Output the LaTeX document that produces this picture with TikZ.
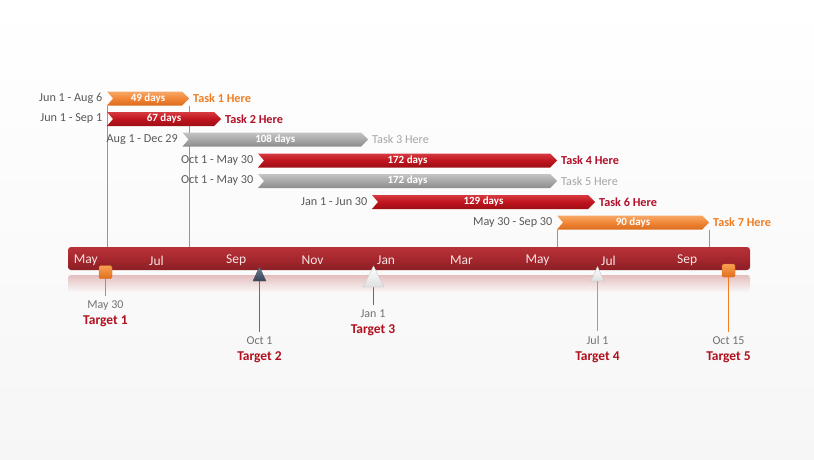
\documentclass[tikz,border=0pt]{standalone}
\usepackage{fontspec}
\setmainfont{Carlito}
\usepackage{tikz}
\usetikzlibrary{positioning}

\definecolor{datec}{HTML}{595959}
\definecolor{orangec}{HTML}{F07D22}
\definecolor{redc}{HTML}{B0102A}
\definecolor{greyc}{HTML}{A6A6A6}
\definecolor{targc}{HTML}{B0101E}
\definecolor{slatec}{HTML}{44546A}
\definecolor{bluelinec}{HTML}{506E8C}

% one task bar: name, y, start x, end x, style, days
\newcommand{\ganttbar}[6]{%
  \shade[#5] (#3,#2-7) -- ({#4-7},#2-7) -- (#4,#2) -- ({#4-7},#2+7)
    -- (#3,#2+7) -- ({#3+6},#2) -- cycle;
  \coordinate (#1w) at (#3,#2);
  \coordinate (#1x) at (#4,#2);
  \node[daysn] (#1) at ({(#3+#4)/2},#2) {#6};
}

\begin{document}
\begin{tikzpicture}[x=1pt,y=-1pt,
  datel/.style={font=\fontsize{12.2}{14}\selectfont, text=datec, inner sep=0pt},
  taskl/.style={font=\fontsize{12.2}{14}\selectfont\bfseries, inner sep=0pt},
  daysn/.style={font=\fontsize{11}{13}\selectfont\bfseries, text=white, inner sep=0pt},
  redbar/.style={top color={rgb,255:red,214;green,58;blue,64}, bottom color={rgb,255:red,158;green,14;blue,22}, middle color={rgb,255:red,192;green,20;blue,30}},
  orangebar/.style={top color={rgb,255:red,247;green,168;blue,104}, bottom color={rgb,255:red,220;green,108;blue,30}, middle color={rgb,255:red,240;green,134;blue,54}},
  greybar/.style={top color={rgb,255:red,196;green,196;blue,196}, bottom color={rgb,255:red,140;green,140;blue,140}, middle color={rgb,255:red,168;green,168;blue,168}},
  timebar/.style={rounded corners=3pt, minimum width=682pt, minimum height=23pt, inner sep=0pt,
    top color={rgb,255:red,184;green,50;blue,56}, bottom color={rgb,255:red,138;green,31;blue,37}, middle color={rgb,255:red,165;green,40;blue,46}},
  monthn/.style={font=\fontsize{13.5}{15}\selectfont, text={rgb,255:red,248;green,228;blue,228}, anchor=west, inner sep=0pt},
  targetd/.style={font=\fontsize{12}{14}\selectfont, text=datec!85, inner sep=0pt, anchor=base},
  targetl/.style={font=\fontsize{13.5}{15}\selectfont\bfseries, text=targc, inner sep=0pt, anchor=base},
  orangesq/.style={minimum size=13pt, inner sep=0pt, rounded corners=1.5pt, draw={rgb,255:red,214;green,104;blue,30}, line width=0.4pt,
    top color={rgb,255:red,248;green,160;blue,84}, bottom color={rgb,255:red,226;green,110;blue,28}},
  tasklink/.style={line width=1.2pt, orangec},
  mlink/.style={line width=1pt, shorten >=4pt}]

  % background
  \shade[top color=white, bottom color=gray!7] (0,0) rectangle (814,460);
  \useasboundingbox (0,0) rectangle (814,460);

  % timeline and its reflection
  \shade[rounded corners=3pt, top color={rgb,255:red,228;green,190;blue,190}, bottom color=white!97!gray]
    (68,275) rectangle (750,293);
  \node[timebar] (tl) at (409,258.5) {};
  \foreach \m/\x [count=\i] in {May/68.6, Jul/144, Sep/220.9, Nov/296.4, Jan/372,
      Mar/445, May/520.5, Jul/596, Sep/672}
    \node[monthn] (mon\i) at (\x+5,260.5) {\m};

  % links from tasks down to the timeline
  \coordinate (t1s) at (107.5,105.5);
  \coordinate (t1e) at (189.5,105.5);
  \coordinate (t7s) at (557.5,229.5);
  \coordinate (t7e) at (709.5,229.5);
  \draw[tasklink] (t1s) -- (t1s |- tl.north);
  \draw[tasklink] (t1e) -- (t1e |- tl.north);
  \draw[tasklink] (t7s) -- (t7s |- tl.north);
  \draw[tasklink] (t7e) -- (t7e |- tl.north);

  % tasks
  \ganttbar{t1}{98.5}{107}{189}{orangebar}{49 days}
  \ganttbar{t2}{119}{107}{221}{redbar}{67 days}
  \ganttbar{t3}{139.5}{182.5}{368}{greybar}{108 days}
  \ganttbar{t4}{160.5}{258}{557}{redbar}{172 days}
  \ganttbar{t5}{181}{258}{557}{greybar}{172 days}
  \ganttbar{t6}{202}{372}{595}{redbar}{129 days}
  \ganttbar{t7}{222.5}{557}{709}{orangebar}{90 days}

  \node[datel, left=4.5pt of t1w] (t1d) {Jun 1 - Aug 6};
  \node[datel, left=4.5pt of t2w] (t2d) {Jun 1 - Sep 1};
  \node[datel, left=4.5pt of t3w] (t3d) {Aug 1 - Dec 29};
  \node[datel, left=4.5pt of t4w] (t4d) {Oct 1 - May 30};
  \node[datel, left=4.5pt of t5w] (t5d) {Oct 1 - May 30};
  \node[datel, left=4.5pt of t6w] (t6d) {Jan 1 - Jun 30};
  \node[datel, left=4.5pt of t7w] (t7d) {May 30 - Sep 30};

  \node[taskl, right=4pt of t1x, text=orangec] (t1l) {Task 1 Here};
  \node[taskl, right=4pt of t2x, text=redc] (t2l) {Task 2 Here};
  \node[datel, right=4pt of t3x, text=greyc] (t3l) {Task 3 Here};
  \node[taskl, right=4pt of t4x, text=redc] (t4l) {Task 4 Here};
  \node[datel, right=4pt of t5x, text=greyc] (t5l) {Task 5 Here};
  \node[taskl, right=4pt of t6x, text=redc] (t6l) {Task 6 Here};
  \node[taskl, right=4pt of t7x, text=orangec] (t7l) {Task 7 Here};

  % targets
  \node[targetd] (m1d) at (105.5,308.3) {May 30};
  \node[targetl] (m1t) at (105.5,324) {Target 1};
  \node[targetd] (m2d) at (259.5,344) {Oct 1};
  \node[targetl] (m2t) at (259.5,360) {Target 2};
  \node[targetd] (m3d) at (373,317.3) {Jan 1};
  \node[targetl] (m3t) at (373,333) {Target 3};
  \node[targetd] (m4d) at (597.5,344) {Jul 1};
  \node[targetl] (m4t) at (597.5,360) {Target 4};
  \node[targetd] (m5d) at (728.5,344) {Oct 15};
  \node[targetl] (m5t) at (728.5,360) {Target 5};

  \coordinate (m1) at (105.5,272);
  \coordinate (m2) at (259.5,281);
  \coordinate (m3) at (373.5,287);
  \coordinate (m4) at (597.5,281);
  \coordinate (m5) at (728.5,270.5);
  \draw[mlink, orangec] (m1) -- (m1 |- m1d.north);
  \draw[mlink, orangec] (m5) -- (m5 |- m5d.north);
  \draw[mlink, slatec!85] (m2) -- (m2 |- m2d.north);
  \draw[mlink, bluelinec] (m3) -- (m3 |- m3d.north);
  \draw[mlink, gray!75] (m4) -- (m4 |- m4d.north);

  \node[orangesq] (m1s) at (m1) {};
  \node[orangesq] (m5s) at (m5) {};
  \shade[top color=slatec!75!white, bottom color=slatec!80!black, draw=slatec]
    (259.5,267) -- (266,281) -- (253,281) -- cycle;
  \shade[top color=white, bottom color=gray!25, draw=gray!45]
    (373.5,266) -- (384,287) -- (363,287) -- cycle;
  \shade[top color=white, bottom color=gray!25, draw=gray!45]
    (597.5,266.5) -- (604,281) -- (591,281) -- cycle;
\end{tikzpicture}
\end{document}
